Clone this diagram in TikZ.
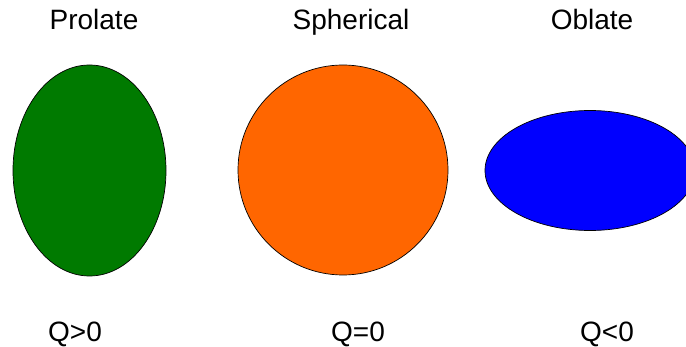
\documentclass[tikz,border=0pt]{standalone}
\usepackage{fontspec}
\setmainfont{Liberation Sans}
\definecolor{pgreen}{RGB}{0,122,0}
\definecolor{porange}{RGB}{255,102,0}
\definecolor{pblue}{RGB}{0,0,255}
\begin{document}
\begin{tikzpicture}[x=1pt,y=-1pt,
  lbl/.style={anchor=base,inner sep=0pt,font=\fontsize{28}{34}\selectfont},
  body/.style={draw=black,line width=0.7pt}]
\useasboundingbox (0,0) rectangle (686,347);
\clip (0,0) rectangle (686,347);
\draw[body,fill=pgreen] (89.5,170.5) ellipse [x radius=76.5, y radius=105.5];
\draw[body,fill=porange] (343,170) circle [radius=105];
\draw[body,fill=pblue] (590,170.5) ellipse [x radius=105, y radius=60];
\node[lbl] (t1) at (94,30) {Prolate};
\node[lbl] (t2) at (351,30) {Spherical};
\node[lbl] (t3) at (592,30) {Oblate};
\node[lbl] (q1) at (75,342) {Q>0};
\node[lbl] (q2) at (358,342) {Q=0};
\node[lbl] (q3) at (607,342) {Q<0};
\end{tikzpicture}
\end{document}
